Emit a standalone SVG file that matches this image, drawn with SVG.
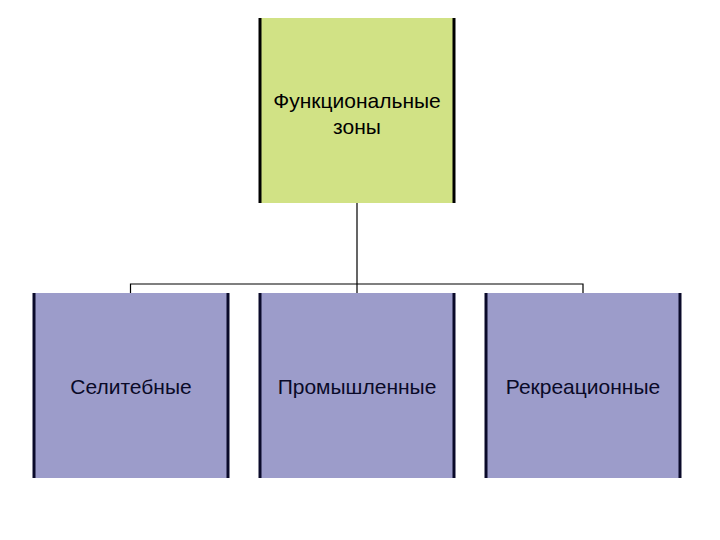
<svg xmlns="http://www.w3.org/2000/svg" width="720" height="540" viewBox="0 0 720 540">
<style>
.top{fill:#D1E285}
.sub{fill:#9C9CCA}
.edge{stroke:#000;stroke-width:3}
.subedge{stroke:#0A0A2A;stroke-width:3}
.conn{stroke:#000;stroke-width:1.2;fill:none}
text{font-family:"Liberation Sans",Arial,sans-serif;font-size:21px;text-anchor:middle}
.st{fill:#0A0A28}
</style>
<rect width="720" height="540" fill="#fff"/>
<g id="connectors">
<path class="conn" d="M357 203V284M130.5 293V284H583V293M357 284V293"/>
</g>
<g id="node-root">
<rect class="top" x="260" y="18" width="194" height="185"/>
<line class="edge" x1="260" y1="18" x2="260" y2="203"/>
<line class="edge" x1="454" y1="18" x2="454" y2="203"/>
<text x="357" y="108">Функциональные</text>
<text x="357" y="134">зоны</text>
</g>
<g id="node-selit">
<rect class="sub" x="33" y="293" width="195" height="185"/>
<line class="subedge" x1="34" y1="293" x2="34" y2="478"/>
<line class="subedge" x1="228" y1="293" x2="228" y2="478"/>
<text class="st" x="131" y="394">Селитебные</text>
</g>
<g id="node-prom">
<rect class="sub" x="260" y="293" width="194" height="185"/>
<line class="subedge" x1="260" y1="293" x2="260" y2="478"/>
<line class="subedge" x1="454" y1="293" x2="454" y2="478"/>
<text class="st" x="357" y="394">Промышленные</text>
</g>
<g id="node-rekr">
<rect class="sub" x="486" y="293" width="194" height="185"/>
<line class="subedge" x1="486" y1="293" x2="486" y2="478"/>
<line class="subedge" x1="680" y1="293" x2="680" y2="478"/>
<text class="st" x="583" y="394">Рекреационные</text>
</g>
</svg>
